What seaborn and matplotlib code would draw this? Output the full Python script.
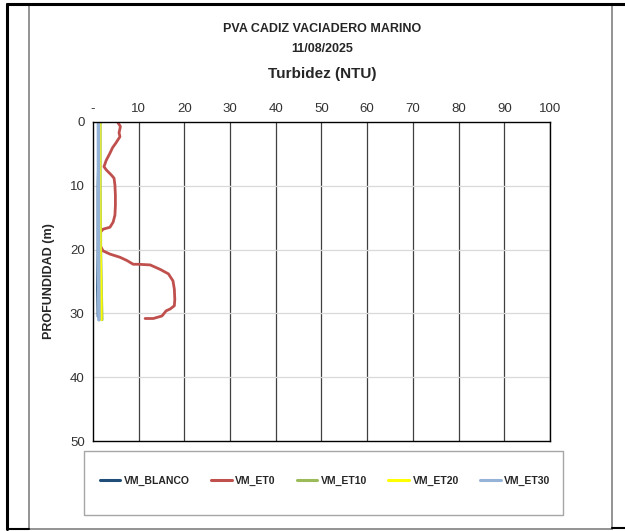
import matplotlib.pyplot as plt
import seaborn as sns
import pandas as pd
from matplotlib.lines import Line2D
from matplotlib.patches import Rectangle

# Data (turbidity NTU vs depth m)
et0_depth = [0.15, 0.7, 1.7, 2.3, 3.3, 4.0, 4.9, 6.0, 7.0, 7.5, 8.3, 8.8, 9.9, 11.5, 13.1,
             14.6, 15.7, 16.5, 16.8, 17.3, 19.4, 20.2, 20.7, 21.2, 21.7, 22.3, 22.3, 22.4,
             23.1, 23.8, 24.9, 26.2, 27.8, 28.8, 29.3, 29.6, 30.4, 30.8, 30.8]
et0_ntu = [5.5, 6.0, 5.7, 5.9, 5.0, 4.3, 3.7, 2.9, 2.4, 2.9, 4.0, 4.6, 4.8, 4.9, 4.9,
           4.8, 4.4, 3.7, 2.2, 1.6, 1.6, 2.2, 3.7, 5.9, 7.4, 8.8, 9.9, 12.5,
           14.7, 16.5, 17.5, 17.8, 17.9, 17.8, 16.9, 16.0, 15.1, 13.2, 11.4]

blanco_depth = [0.0, 0.5, 10.0, 20.0, 26.0, 30.5]
blanco_ntu = [1.6, 1.4, 1.1, 1.1, 1.0, 1.1]

et10_depth = [0.0, 10.0, 20.0, 28.0, 31.0]
et10_ntu = [1.6, 1.6, 1.7, 1.9, 2.0]

et20_depth = [0.0, 10.0, 20.0, 28.0, 31.0]
et20_ntu = [1.5, 1.5, 1.6, 1.8, 1.8]

et30_depth = [0.0, 10.0, 20.0, 31.0]
et30_ntu = [1.2, 1.2, 1.2, 1.3]

series = ['VM_BLANCO', 'VM_ET0', 'VM_ET10', 'VM_ET20', 'VM_ET30']
colors = ['#1F4E79', '#C0504D', '#9BBB59', '#FFFF00', '#95B3D7']
widths = [2.0, 2.0, 2.0, 2.0, 2.6]

frames = []
for name, d, v in [('VM_BLANCO', blanco_depth, blanco_ntu), ('VM_ET0', et0_depth, et0_ntu),
                   ('VM_ET10', et10_depth, et10_ntu), ('VM_ET20', et20_depth, et20_ntu),
                   ('VM_ET30', et30_depth, et30_ntu)]:
    frames.append(pd.DataFrame({'serie': name, 'prof': d, 'ntu': v}))
df = pd.concat(frames, ignore_index=True)

sns.set_theme(style="white")
plt.rcParams['font.family'] = ['Liberation Sans', 'DejaVu Sans']

fig = plt.figure(figsize=(6.25, 5.31), dpi=100)
ax = fig.add_axes([93 / 625, 1 - 441 / 531, (550 - 93) / 625, (441 - 122) / 531])

for name, col, lw in zip(series, colors, widths):
    sub = df[df['serie'] == name]
    sns.lineplot(data=sub, x='ntu', y='prof', sort=False, estimator=None,
                 color=col, linewidth=lw, ax=ax, legend=False)

ax.set_xlim(0, 100)
ax.set_ylim(50, 0)
ax.set_xticks(range(0, 101, 10))
ax.set_xticklabels(['-'] + [str(v) for v in range(10, 101, 10)])
ax.set_yticks(range(0, 51, 10))
ax.xaxis.tick_top()
ax.tick_params(axis='x', labelsize=9.5, colors='#333333', pad=5, length=0)
ax.tick_params(axis='y', labelsize=9.5, colors='#333333', pad=6, length=0)
for v in range(10, 101, 10):
    ax.axvline(v, color='#404040', linewidth=0.9, zorder=0)
for v in range(10, 50, 10):
    ax.axhline(v, color='#D9D9D9', linewidth=0.9, zorder=0)
for s in ax.spines.values():
    s.set_color('black')
    s.set_linewidth(1.0)
ax.set_xlabel('')
ax.set_ylabel('PROFUNDIDAD (m)', fontsize=9, fontweight='bold', labelpad=11)

# titles
fig.text(0.516, 1 - 29 / 531, 'PVA CADIZ VACIADERO MARINO', ha='center', va='center',
         fontsize=9, fontweight='bold')
fig.text(0.516, 1 - 49 / 531, '11/08/2025', ha='center', va='center',
         fontsize=9, fontweight='bold')
fig.text(0.516, 1 - 74 / 531, 'Turbidez (NTU)', ha='center', va='center',
         fontsize=11, fontweight='bold')

# legend box
fig.patches.append(Rectangle((84 / 625, 1 - 515 / 531), (563 - 84) / 625, (515 - 451) / 531,
                             transform=fig.transFigure, fill=False, edgecolor='#A6A6A6', linewidth=1.0))
handles = [Line2D([0], [0], color=c, linewidth=2.2) for c in colors]
fig.legend(handles, series, loc='center', bbox_to_anchor=(325 / 625, 1 - 481 / 531), ncol=5,
           frameon=False, handlelength=2.0, handletextpad=0.35, columnspacing=2.0,
           prop={'weight': 'bold', 'size': 7.5})

# outer frames (spreadsheet cell borders)
fig.add_artist(Line2D([29 / 625, 29 / 625], [1 - 4 / 531, 1 - 529 / 531], color='#808080', linewidth=1.2))
fig.add_artist(Line2D([612 / 625, 612 / 625], [1 - 4 / 531, 1 - 529 / 531], color='#808080', linewidth=1.2))
fig.add_artist(Line2D([29 / 625, 612 / 625], [1 - 529 / 531, 1 - 529 / 531], color='#808080', linewidth=1.2))
fig.add_artist(Line2D([7 / 625, 7 / 625], [1 - 4 / 531, 1 - 529 / 531], color='black', linewidth=2.2))
fig.add_artist(Line2D([7 / 625, 1.0], [1 - 4 / 531, 1 - 4 / 531], color='black', linewidth=2.2))
fig.add_artist(Line2D([7 / 625, 29 / 625], [1 - 529 / 531, 1 - 529 / 531], color='black', linewidth=1.5))
fig.add_artist(Line2D([612 / 625, 1.0], [1 - 528 / 531, 1 - 528 / 531], color='black', linewidth=1.5))

fig.savefig('out.png', dpi=100)
